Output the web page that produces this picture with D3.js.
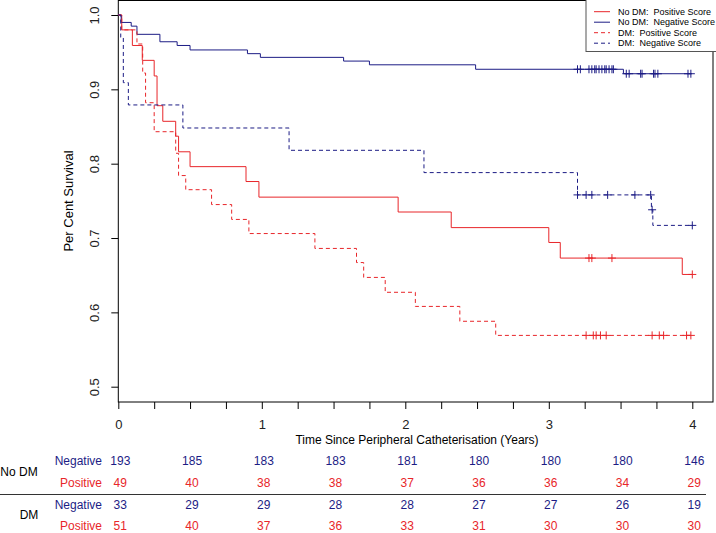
<!DOCTYPE html>
<html>
<head>
<meta charset="utf-8">
<script src="https://cdn.jsdelivr.net/npm/d3@7/dist/d3.min.js"></script>
<style>
body { margin: 0; background: #fff; }
svg { display: block; font-family: "Liberation Sans", Arial, sans-serif; }
</style>
</head>
<body>
<svg id="chart" width="716" height="533"></svg>
<script>
// Kaplan-Meier curves: time (years) of each drop and survival just after it
const noDmPosTimes = [0.024, 0.098, 0.167, 0.25, 0.27, 0.31, 0.40, 0.42, 0.50, 0.89, 0.98, 1.95, 2.32, 3.00, 3.08, 3.93];
const noDmPosSurv  = [0.980, 0.959, 0.939, 0.918, 0.878, 0.857, 0.837, 0.816, 0.796, 0.776, 0.755, 0.735, 0.714, 0.694, 0.673, 0.651];
const noDmPosCens  = [3.28, 3.30, 3.44, 4.0];

const noDmNegTimes = [0.02, 0.09, 0.13, 0.29, 0.41, 0.50, 0.90, 0.99, 1.57, 1.75, 2.49, 3.52];
const noDmNegSurv  = [0.990, 0.985, 0.974, 0.964, 0.959, 0.953, 0.948, 0.943, 0.938, 0.933, 0.927, 0.921];
const noDmNegCens  = [3.20, 3.22, 3.28, 3.30, 3.32, 3.33, 3.35, 3.37, 3.39, 3.40, 3.42, 3.44, 3.45,
                      3.54, 3.56, 3.64, 3.65, 3.73, 3.74, 3.76, 3.97, 3.99];

const dmPosTimes = [0.024, 0.13, 0.17, 0.19, 0.25, 0.40, 0.42, 0.47, 0.65, 0.79, 0.91, 1.37, 1.66, 1.71, 1.86, 2.07, 2.38, 2.63];
const dmPosSurv  = [0.980, 0.961, 0.922, 0.882, 0.843, 0.814, 0.784, 0.765, 0.745, 0.725, 0.706, 0.686, 0.667, 0.647, 0.627, 0.608, 0.588, 0.569];
const dmPosCens  = [3.26, 3.31, 3.33, 3.36, 3.40, 3.72, 3.77, 3.80, 3.96, 3.99];

const dmNegTimes = [0.017, 0.035, 0.07, 0.45, 1.19, 2.13, 3.20, 3.715, 3.725];
const dmNegSurv  = [0.970, 0.909, 0.879, 0.848, 0.818, 0.788, 0.758, 0.738, 0.717];
const dmNegCens  = [3.20, 3.26, 3.30, 3.41, 3.60, 3.71, 3.72, 4.0];

// numbers at risk
const riskTimes   = [0, 0.5, 1, 1.5, 2, 2.5, 3, 3.5, 4];
const riskNoDmNeg = [193, 185, 183, 183, 181, 180, 180, 180, 146];
const riskNoDmPos = [49, 40, 38, 38, 37, 36, 36, 34, 29];
const riskDmNeg   = [33, 29, 29, 28, 28, 27, 27, 26, 19];
const riskDmPos   = [51, 40, 37, 36, 33, 31, 30, 30, 30];

const yTicks = [0.5, 0.6, 0.7, 0.8, 0.9, 1.0];

const RED = "#e8262a", NAVY = "#1c1c85";

const svg = d3.select("#chart");
const boxLeft = 118.3, boxRight = 713, boxTop = 0.5, boxBottom = 402;

const x = d3.scaleLinear().domain([0, 4]).range([118.3, 692.3]);
const y = d3.scaleLinear().domain([0.5, 1.0]).range([386.7, 15]);

// box
svg.append("rect")
    .attr("x", boxLeft).attr("y", boxTop)
    .attr("width", boxRight - boxLeft).attr("height", boxBottom - boxTop)
    .attr("fill", "none").attr("stroke", "#000").attr("stroke-width", 1);

// y axis
const yAxis = svg.append("g")
    .attr("transform", `translate(${boxLeft},0)`)
    .call(d3.axisLeft(y).tickValues(yTicks).tickSize(7).tickSizeOuter(0).tickFormat(d3.format(".1f")));
yAxis.select(".domain").remove();
yAxis.selectAll("text")
    .attr("transform", "rotate(-90)")
    .attr("x", 0).attr("y", -19).attr("dy", 0)
    .attr("text-anchor", "middle")
    .attr("font-size", 13).attr("font-family", null)
    .attr("fill", "#222");

// x axis
const xAxis = svg.append("g")
    .attr("transform", `translate(0,${boxBottom})`)
    .call(d3.axisBottom(x).tickValues(d3.range(0, 4.01, 0.25)).tickSize(7).tickSizeOuter(0)
        .tickFormat(d => Number.isInteger(d) ? d : ""));
xAxis.select(".domain").remove();
xAxis.selectAll("text")
    .attr("y", 22).attr("dy", "0.35em")
    .attr("font-size", 13).attr("font-family", null)
    .attr("fill", "#222");

svg.append("text")
    .attr("x", 417).attr("y", 440).attr("dy", "0.35em")
    .attr("text-anchor", "middle").attr("font-size", 12)
    .text("Time Since Peripheral Catheterisation (Years)");

svg.append("text")
    .attr("transform", "translate(68,201) rotate(-90)")
    .attr("dy", "0.35em")
    .attr("text-anchor", "middle").attr("font-size", 13)
    .text("Per Cent Survival");

// curves
const series = [
    { times: noDmPosTimes, surv: noDmPosSurv, cens: noDmPosCens, color: RED, dash: null },
    { times: noDmNegTimes, surv: noDmNegSurv, cens: noDmNegCens, color: NAVY, dash: null },
    { times: dmPosTimes, surv: dmPosSurv, cens: dmPosCens, color: RED, dash: "4,3" },
    { times: dmNegTimes, surv: dmNegSurv, cens: dmNegCens, color: NAVY, dash: "4,3" }
];

const line = d3.line().x(d => x(d[0])).y(d => y(d[1])).curve(d3.curveStepAfter);

function survAt(s, t) {
    let v = 1;
    s.times.forEach((tt, i) => { if (tt <= t) v = s.surv[i]; });
    return v;
}

series.forEach(s => {
    const end = d3.max(s.cens);
    const pts = [[0, 1]].concat(s.times.map((t, i) => [t, s.surv[i]]));
    pts.push([end, s.surv[s.surv.length - 1]]);
    svg.append("path")
        .attr("d", line(pts))
        .attr("fill", "none")
        .attr("stroke", s.color)
        .attr("stroke-width", 1)
        .attr("stroke-dasharray", s.dash);

    const marks = svg.append("g");
    s.cens.forEach(t => {
        const cx = x(t), cy = y(survAt(s, t));
        marks.append("path")
            .attr("d", `M${cx - 4},${cy}H${cx + 4}M${cx},${cy - 4}V${cy + 4}`)
            .attr("stroke", s.color).attr("stroke-width", 1);
    });
});

// legend
const legend = svg.append("g");
legend.append("rect")
    .attr("x", 586).attr("y", -1).attr("width", 140).attr("height", 52.5)
    .attr("fill", "#fff").attr("stroke", "#555");
const legendItems = [
    ["No DM:  Positive Score", RED, null],
    ["No DM:  Negative Score", NAVY, null],
    ["DM:  Positive Score", RED, "4,3"],
    ["DM:  Negative Score", NAVY, "4,3"]
];
legendItems.forEach((d, i) => {
    const ly = 11.7 + i * 10.5;
    legend.append("line")
        .attr("x1", 594).attr("x2", 610).attr("y1", ly).attr("y2", ly)
        .attr("stroke", d[1]).attr("stroke-dasharray", d[2]);
    legend.append("text")
        .attr("x", 618).attr("y", ly).attr("dy", "0.35em")
        .attr("font-size", 9).style("white-space", "pre")
        .text(d[0]);
});

// risk table
const rows = [
    { label: "Negative", vals: riskNoDmNeg, color: NAVY, cy: 461 },
    { label: "Positive", vals: riskNoDmPos, color: RED, cy: 482.5 },
    { label: "Negative", vals: riskDmNeg, color: NAVY, cy: 505 },
    { label: "Positive", vals: riskDmPos, color: RED, cy: 525.5 }
];
rows.forEach(r => {
    svg.append("text")
        .attr("x", 102).attr("y", r.cy).attr("dy", "0.35em")
        .attr("text-anchor", "end").attr("font-size", 12)
        .attr("fill", r.color).text(r.label);
    svg.selectAll(null)
        .data(r.vals)
        .enter()
        .append("text")
        .attr("x", (d, i) => x(riskTimes[i]) + 2)
        .attr("y", r.cy).attr("dy", "0.35em")
        .attr("text-anchor", "middle").attr("font-size", 12)
        .attr("fill", r.color)
        .text(d => d);
});

svg.append("text").attr("x", 19).attr("y", 472).attr("dy", "0.35em")
    .attr("text-anchor", "middle").attr("font-size", 12).text("No DM");
svg.append("text").attr("x", 29).attr("y", 515).attr("dy", "0.35em")
    .attr("text-anchor", "middle").attr("font-size", 12).text("DM");

svg.append("line")
    .attr("x1", 0).attr("x2", 706).attr("y1", 494.5).attr("y2", 494.5)
    .attr("stroke", "#333");
</script>
</body>
</html>
